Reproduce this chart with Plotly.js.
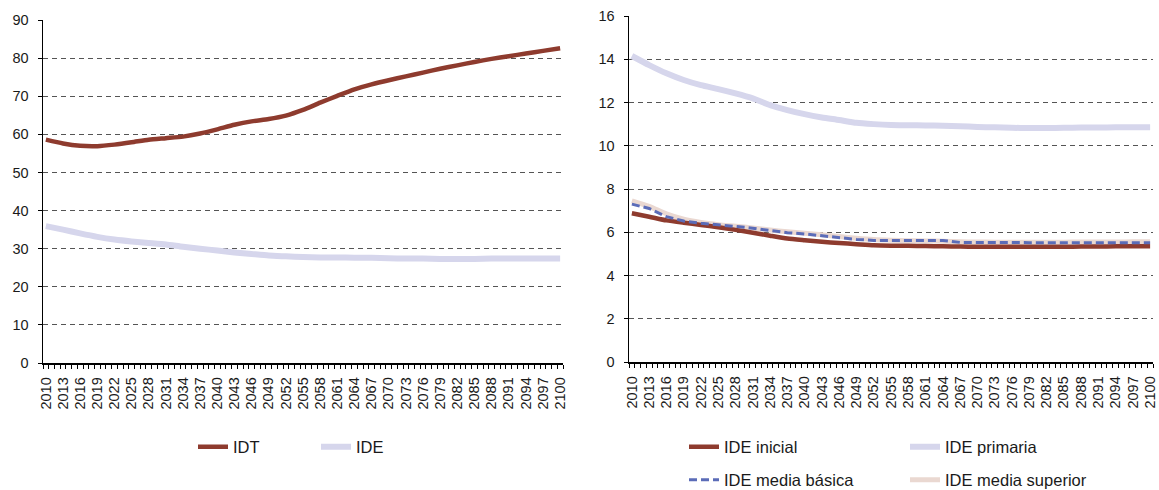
<!DOCTYPE html>
<html>
<head>
<meta charset="utf-8">
<script src="https://cdn.plot.ly/plotly-3.0.1.min.js"></script>
<style>html,body{margin:0;padding:0;background:#fff;overflow:hidden;}#chart{width:1159px;height:490px;}</style>
</head>
<body>
<div id="chart"></div>
<script>
// Years (every 3 years, matching the tick labels)
const years = [2010,2013,2016,2019,2022,2025,2028,2031,2034,2037,2040,2043,2046,2049,2052,2055,2058,2061,2064,2067,2070,2073,2076,2079,2082,2085,2088,2091,2094,2097,2100];
const tickLabels = years.map(String);

// Left chart
const idt = [58.6,57.6,57.0,56.9,57.3,57.9,58.6,59.0,59.4,60.2,61.3,62.5,63.4,64.0,64.9,66.4,68.3,70.1,71.8,73.1,74.2,75.2,76.2,77.2,78.1,79.0,79.8,80.5,81.2,81.9,82.6];
const ide = [35.9,35.0,34.0,33.1,32.4,31.9,31.5,31.1,30.5,30.0,29.5,29.0,28.6,28.2,28.0,27.8,27.7,27.7,27.6,27.6,27.5,27.4,27.4,27.3,27.3,27.3,27.4,27.4,27.4,27.4,27.4];

// Right chart
const ideInicial = [6.88,6.72,6.55,6.44,6.34,6.23,6.11,5.98,5.84,5.71,5.63,5.56,5.50,5.45,5.40,5.38,5.37,5.36,5.35,5.34,5.33,5.33,5.33,5.33,5.33,5.33,5.34,5.34,5.35,5.35,5.35];
const idePrimaria = [14.15,13.73,13.35,13.04,12.80,12.62,12.42,12.19,11.88,11.65,11.46,11.31,11.19,11.06,11.00,10.96,10.95,10.94,10.92,10.90,10.87,10.85,10.83,10.82,10.82,10.83,10.84,10.84,10.85,10.86,10.86];
const ideMediaBasica = [7.30,7.10,6.72,6.52,6.42,6.34,6.28,6.19,6.08,5.98,5.92,5.83,5.75,5.67,5.62,5.62,5.62,5.62,5.62,5.53,5.52,5.52,5.52,5.52,5.52,5.52,5.52,5.52,5.52,5.52,5.52];
const ideMediaSuperior = [7.45,7.20,6.85,6.60,6.45,6.35,6.28,6.20,6.10,6.02,5.95,5.88,5.80,5.72,5.66,5.63,5.61,5.60,5.58,5.56,5.55,5.54,5.54,5.54,5.54,5.54,5.55,5.55,5.55,5.56,5.56];

const C_BROWN = '#8e3b2e', C_LAV = '#d6d6ec', C_BLUE = '#5b6cb8', C_PINK = '#ead8d1';
const FONT = 'Liberation Sans, Arial, sans-serif';
const W = 1159, H = 490;

const traces = [
  {x: years, y: idt, xaxis:'x', yaxis:'y', name:'IDT', mode:'lines', line:{color:C_BROWN, width:4.5, shape:'spline', smoothing:0.6}, legend:'legend', legendrank:1},
  {x: years, y: ide, xaxis:'x', yaxis:'y', name:'IDE', mode:'lines', line:{color:C_LAV, width:6, shape:'spline', smoothing:0.6}, legend:'legend', legendrank:2},
  {x: years, y: ideMediaSuperior, xaxis:'x2', yaxis:'y2', name:'IDE media superior', mode:'lines', line:{color:C_PINK, width:5, shape:'spline', smoothing:0.6}, legend:'legend3', legendrank:2},
  {x: years, y: idePrimaria, xaxis:'x2', yaxis:'y2', name:'IDE primaria', mode:'lines', line:{color:C_LAV, width:6, shape:'spline', smoothing:0.6}, legend:'legend2', legendrank:2},
  {x: years, y: ideInicial, xaxis:'x2', yaxis:'y2', name:'IDE inicial', mode:'lines', line:{color:C_BROWN, width:4.5, shape:'spline', smoothing:0.6}, legend:'legend2', legendrank:1},
  {x: years, y: ideMediaBasica, xaxis:'x2', yaxis:'y2', name:'IDE media básica', mode:'lines', line:{color:C_BLUE, width:3, dash:'8px,4px'}, legend:'legend3', legendrank:1}
];

function xax(domain, anchor){
  return {
    domain: domain, anchor: anchor, range:[2009.5, 2100.5], autorange:false,
    tickmode:'array', tickvals: years, ticktext: tickLabels, tickangle:-90,
    ticks:'outside', ticklen:4, tickcolor:'rgba(0,0,0,0)', ticklabelstandoff:3,
    ticklabeloverflow:'allow',
    minor:{tick0:2009.5, dtick:1, ticks:'outside', ticklen:4, tickcolor:'#000', tickwidth:1, showgrid:false},
    showline:true, linecolor:'#000', linewidth:1.5, showgrid:false, zeroline:false,
    tickfont:{family:FONT, size:14.5, color:'#1a1a1a'}, automargin:false, fixedrange:true
  };
}
function yax(domain, anchor, max, dt){
  return {
    domain: domain, anchor: anchor, range:[0, max], autorange:false, dtick: dt, tick0:0,
    ticks:'outside', ticklen:4, tickcolor:'#000', tickwidth:1, ticklabelstandoff:6,
    ticklabeloverflow:'allow',
    showline:true, linecolor:'#000', linewidth:1.5,
    showgrid:true, gridcolor:'#555', gridwidth:1, griddash:'5px,4px', zeroline:false,
    tickfont:{family:FONT, size:14.5, color:'#1a1a1a'}, automargin:false, fixedrange:true
  };
}

const legendBase = {orientation:'h', xanchor:'left', yanchor:'middle', font:{family:FONT, size:16.5, color:'#1a1a1a'}, bgcolor:'rgba(0,0,0,0)', borderwidth:0, traceorder:'normal', itemclick:false, itemdoubleclick:false};

const layout = {
  width: W, height: H, autosize:false,
  margin:{l:0, r:0, t:0, b:0, pad:0, autoexpand:false},
  paper_bgcolor:'#fff', plot_bgcolor:'#fff',
  font:{family:FONT, color:'#1a1a1a'},
  xaxis: xax([43/W, 563/W], 'y'),
  yaxis: yax([(H-363)/H, (H-20)/H], 'x', 90, 10),
  xaxis2: xax([629/W, 1153/W], 'y2'),
  yaxis2: yax([(H-362)/H, (H-16)/H], 'x2', 16, 2),
  legend: Object.assign({}, legendBase, {x:193/W, y:(H-447)/H, entrywidth:78}),
  legend2: Object.assign({}, legendBase, {x:684/W, y:(H-447)/H, entrywidth:176}),
  legend3: Object.assign({}, legendBase, {x:684/W, y:(H-480)/H, entrywidth:176}),
  showlegend:true
};

Plotly.newPlot('chart', traces, layout, {staticPlot:true, displayModeBar:false});
</script>
</body>
</html>
